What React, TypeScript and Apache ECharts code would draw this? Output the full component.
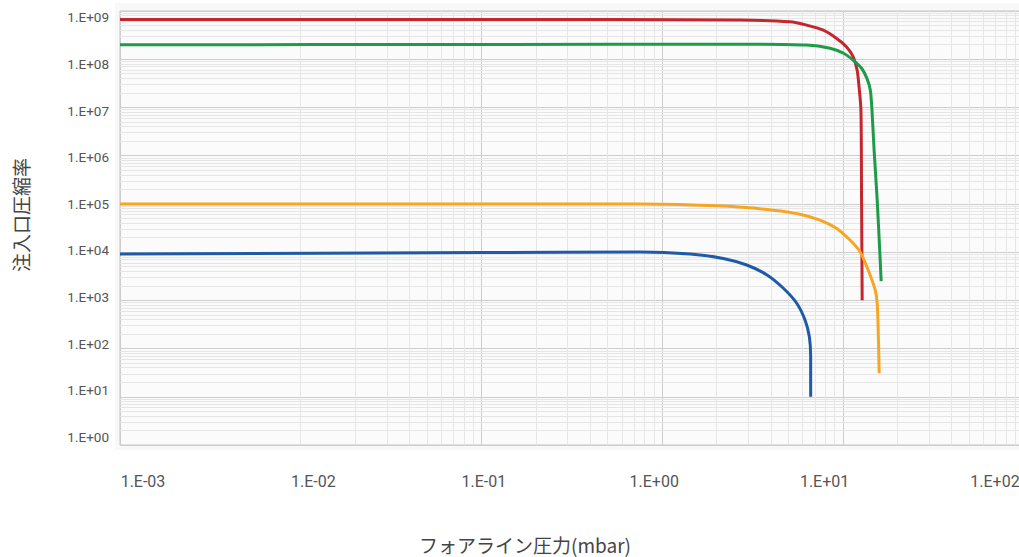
import React, { useEffect, useRef } from "react";
import * as echarts from "echarts";

// ---- data ----
const xTickLabels = ["1.E-03", "1.E-02", "1.E-01", "1.E+00", "1.E+01", "1.E+02"];
const yTickLabels = ["1.E+00", "1.E+01", "1.E+02", "1.E+03", "1.E+04", "1.E+05", "1.E+06", "1.E+07", "1.E+08", "1.E+09"];

const redX = [0.001, 0.1, 2.7, 5.1, 6.31, 7.8, 9.25, 10.5, 11.4, 12.0, 12.3, 12.6, 12.7, 12.8];
const redY = [6.7e8, 6.7e8, 6.5e8, 6.0e8, 5.1e8, 4.0e8, 2.7e8, 1.8e8, 1.13e8, 6.0e7, 2.7e7, 8.9e6, 1.2e5, 1.0e3];

const greenX = [0.001, 0.1, 2.7, 6.31, 8.5, 10.1, 11.4, 12.7, 13.6, 14.2, 14.5, 14.9, 15.5, 16.1, 16.3];
const greenY = [2.0e8, 2.02e8, 2.05e8, 1.97e8, 1.69e8, 1.33e8, 9.6e7, 6.5e7, 4.0e7, 2.3e7, 8.9e6, 1.3e6, 1.2e5, 6.9e3, 2.5e3];

const orangeX = [0.001, 0.1, 0.755, 2.18, 4.12, 5.79, 7.48, 9.25, 10.96, 12.45, 13.8, 15.1, 15.5, 15.7, 15.9];
const orangeY = [1e5, 1e5, 1e5, 9.0e4, 7.4e4, 6.1e4, 4.6e4, 3.1e4, 1.78e4, 1.02e4, 4.3e3, 1.64e3, 870, 243, 30.7];

const blueX = [0.001, 0.1, 0.755, 1.43, 2.18, 2.94, 3.79, 4.69, 5.56, 6.18, 6.53, 6.64, 6.64];
const blueY = [9.1e3, 9.8e3, 1.0e4, 9.1e3, 7.4e3, 5.4e3, 3.4e3, 1.78e3, 870, 391, 176, 68, 10];

const xDecades = [-3, -2, -1, 0, 1];
const yDecades = [0, 1, 2, 3, 4, 5, 6, 7, 8];
const minorSteps = [2, 3, 4, 5, 6, 7, 8, 9];

const xTitle = "フォアライン圧力(mbar)";
const yTitle = "注入口圧縮率";

const zip = (xs: number[], ys: number[]) => xs.map((x, i) => [x, ys[i]]);

export default function App() {
  const ref = useRef<HTMLDivElement>(null);
  useEffect(() => {
    if (!ref.current) return;
    const chart = echarts.init(ref.current, null, { renderer: "svg" });

    const minorX: any[] = [];
    xDecades.forEach((d) => minorSteps.forEach((m) => minorX.push({ xAxis: m * Math.pow(10, d) })));
    const minorY: any[] = [];
    yDecades.forEach((d) => minorSteps.forEach((m) => minorY.push({ yAxis: m * Math.pow(10, d) })));

    const lineSeries = (name: string, xs: number[], ys: number[], color: string) => ({
      type: "line",
      name,
      xAxisIndex: 0,
      yAxisIndex: 0,
      data: zip(xs, ys),
      showSymbol: false,
      symbol: "none",
      smooth: 0.25,
      z: 5,
      lineStyle: { color, width: 3, cap: "butt", join: "round" },
      itemStyle: { color },
    });

    chart.setOption({
      animation: false,
      backgroundColor: "#ffffff",
      textStyle: { fontFamily: "Roboto, 'Noto Sans CJK JP', sans-serif" },
      grid: [
        {
          left: 120,
          top: 11,
          width: 903.5,
          height: 434,
          outerBoundsMode: "none",
          containLabel: false,
          show: true,
          backgroundColor: "#fbfbfb",
          borderColor: "#c6c6c6",
          borderWidth: 1,
        },
        { left: 143, top: 17.3, width: 852, height: 419.4, show: false, outerBoundsMode: "none" },
      ],
      xAxis: [
        {
          type: "log",
          gridIndex: 0,
          min: 0.001,
          max: 100,
          logBase: 10,
          axisLine: { show: false },
          axisTick: { show: false },
          axisLabel: { show: false },
          splitLine: { show: true, lineStyle: { color: "#cdcdcd", width: 1 } },
        },
        {
          type: "value",
          gridIndex: 1,
          min: -3,
          max: 2,
          interval: 1,
          axisLine: { show: false },
          axisTick: { show: false },
          splitLine: { show: false },
          axisLabel: {
            margin: 37,
            fontSize: 16,
            color: "#555",
            fontFamily: "Roboto",
            formatter: (v: number) => xTickLabels[Math.round(v) + 3] ?? "",
          },
        },
      ],
      yAxis: [
        {
          type: "log",
          gridIndex: 0,
          min: 1,
          max: 1e9,
          logBase: 10,
          axisLine: { show: false },
          axisTick: { show: false },
          axisLabel: { show: false },
          splitLine: { show: true, lineStyle: { color: "#cdcdcd", width: 1 } },
        },
        {
          type: "value",
          gridIndex: 1,
          min: 0,
          max: 9,
          interval: 1,
          axisLine: { show: false },
          axisTick: { show: false },
          splitLine: { show: false },
          axisLabel: {
            margin: 34,
            fontSize: 13.5,
            color: "#555",
            fontFamily: "Roboto",
            formatter: (v: number) => yTickLabels[Math.round(v)] ?? "",
          },
        },
      ],
      graphic: [
        {
          type: "rect",
          z: -10,
          silent: true,
          shape: { x: 115, y: 3, width: 904, height: 447 },
          style: { fill: "#f8f8f8" },
        },
        {
          type: "text",
          x: 525,
          y: 544,
          style: {
            text: xTitle,
            fontSize: 19,
            fontFamily: "'Noto Sans CJK JP', sans-serif",
            fill: "#444",
            textAlign: "center",
            textVerticalAlign: "middle",
          },
        },
        {
          type: "text",
          x: 20,
          y: 215,
          rotation: Math.PI / 2,
          style: {
            text: yTitle,
            fontSize: 19,
            fontFamily: "'Noto Sans CJK JP', sans-serif",
            fill: "#444",
            textAlign: "center",
            textVerticalAlign: "middle",
          },
        },
      ],
      series: [
        {
          type: "line",
          name: "minor-grid",
          xAxisIndex: 0,
          yAxisIndex: 0,
          data: [[0.001, 1]],
          symbol: "none",
          showSymbol: false,
          silent: true,
          z: 1,
          lineStyle: { opacity: 0 },
          markLine: {
            silent: true,
            symbol: ["none", "none"],
            label: { show: false },
            animation: false,
            lineStyle: { type: "solid", color: "#e6e6e6", width: 1 },
            data: [...minorX, ...minorY],
          },
        },
        lineSeries("red", redX, redY, "#c4262e"),
        lineSeries("green", greenX, greenY, "#1e9b48"),
        lineSeries("orange", orangeX, orangeY, "#f6a623"),
        lineSeries("blue", blueX, blueY, "#1f5aa8"),
      ],
    });
    return () => chart.dispose();
  }, []);
  return (
    <div
      ref={ref}
      style={{ position: "fixed", left: 0, top: 0, width: 1019, height: 557 }}
    />
  );
}
